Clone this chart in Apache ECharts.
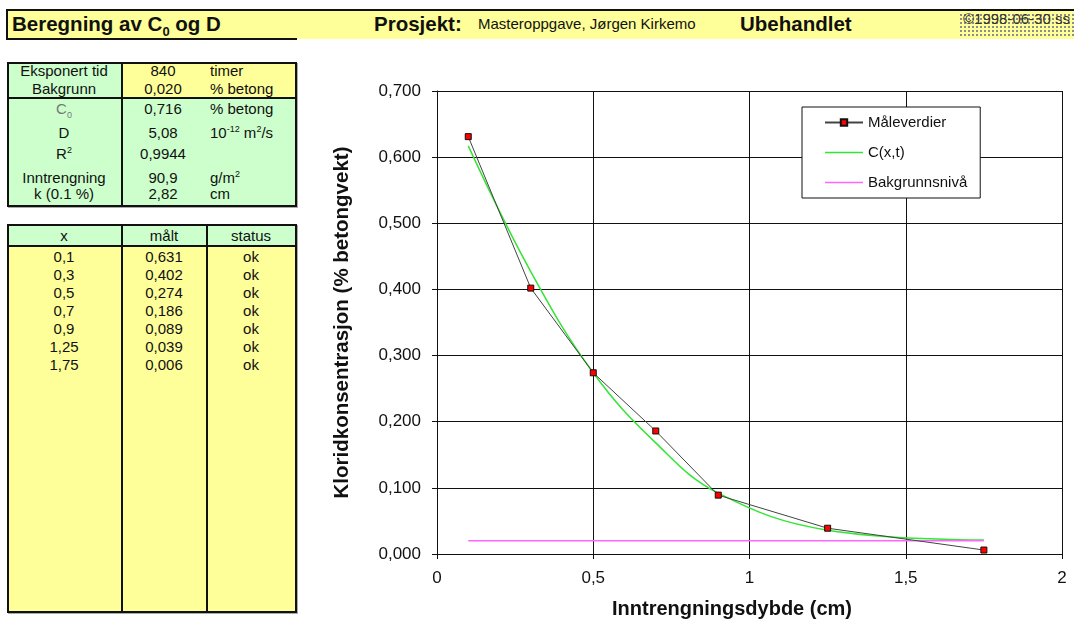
<!DOCTYPE html>
<html>
<head>
<meta charset="utf-8">
<script src="https://cdn.jsdelivr.net/npm/echarts@6/dist/echarts.min.js"></script>
<style>
  html, body { margin: 0; padding: 0; background: #fff; }
  body { width: 1074px; height: 624px; position: relative; overflow: hidden;
         font-family: "Liberation Sans", Arial, sans-serif; color: #000; }
  .abs { position: absolute; }
  .txt { position: absolute; height: 18px; line-height: 18px; font-size: 15px; white-space: nowrap; color: #111; }
  .c { text-align: center; }
  sub, sup { font-size: 9px; line-height: 0; }
  #chart { position: absolute; left: 300px; top: 40px; width: 774px; height: 584px; }
</style>
</head>
<body>
<div id="page"></div>
<div id="chart"></div>
<script>
// Measured chloride profile (depth in cm, chloride in % of concrete weight)
const depthCm  = [0.1, 0.3, 0.5, 0.7, 0.9, 1.25, 1.75];
const measured = [0.631, 0.402, 0.274, 0.186, 0.089, 0.039, 0.006];
const status   = ['ok', 'ok', 'ok', 'ok', 'ok', 'ok', 'ok'];
// Fitted profile C(x,t) at the same depths
const fitted   = [0.617, 0.427, 0.274, 0.168, 0.092, 0.036, 0.021];
// Background level line
const bgDepth  = [0.1, 1.75];
const bgLevel  = [0.020, 0.020];

// Parameter table rows: label, value, unit
const paramLabels = ['Eksponert tid', 'Bakgrunn', 'C<sub>0</sub>', 'D', 'R<sup>2</sup>', 'Inntrengning', 'k (0.1 %)'];
const paramValues = ['840', '0,020', '0,716', '5,08', '0,9944', '90,9', '2,82'];
const paramUnits  = ['timer', '% betong', '% betong', '10<sup>-12</sup> m<sup>2</sup>/s', '', 'g/m<sup>2</sup>', 'cm'];
const paramRowY   = [71, 89, 109, 133, 154, 178, 194];

const yTickLabels = v => v.toFixed(3).replace('.', ',');
const xTickLabels = v => String(v).replace('.', ',');

const page = document.getElementById('page');
function box(l, t, w, h, style) {
  const d = document.createElement('div');
  d.className = 'abs';
  d.style.cssText = `left:${l}px;top:${t}px;width:${w}px;height:${h}px;` + (style || '');
  page.appendChild(d);
  return d;
}
function text(html, cx, cy, opts) {
  const d = document.createElement('div');
  d.className = 'txt' + (opts && opts.left ? '' : ' c');
  if (opts && opts.left) d.style.left = cx + 'px';
  else { d.style.left = (cx - 60) + 'px'; d.style.width = '120px'; }
  d.style.top = (cy - 9) + 'px';
  if (opts && opts.css) d.style.cssText += opts.css;
  d.innerHTML = html;
  page.appendChild(d);
  return d;
}

// ---- header bar ----
const bold = 'font-size:20.5px;font-weight:bold;height:22px;line-height:22px;margin-top:-2px;';
box(6, 9, 1068, 30, 'background:#ffff99;');
box(6, 9, 1068, 2, 'background:#111;');
box(6, 9, 2, 31, 'background:#111;');
box(6, 38, 291, 2, 'background:#111;');
// dotted fill behind the date stamp
box(958, 12, 116, 26, 'background-image:radial-gradient(circle,#8a8a8a 0.7px,transparent 1px);background-size:4px 4px;background-position:1px 1px;');
text('Beregning av C<sub style="font-size:13px">0</sub> og D', 12, 24, {left: true, css: bold});
text('Prosjekt:', 374, 24, {left: true, css: bold});
text('Masteroppgave, Jørgen Kirkemo', 478, 24, {left: true});
text('Ubehandlet', 740, 24, {left: true, css: bold});
text('©1998-06-30 ss', 963, 19, {left: true, css: 'color:#333;'});

// ---- parameter table ----
box(7, 62, 290, 145, 'background:#ccffcc;box-sizing:border-box;border:2px solid #111;box-shadow:1px 1px 0 #aaa;');
box(123, 64, 172, 34, 'background:#ffff99;');
box(121, 62, 2, 145, 'background:#111;');
box(7, 97, 290, 2, 'background:#111;');
paramLabels.forEach((lab, i) => {
  const el = text(lab, 64, paramRowY[i]);
  if (i === 2) el.style.color = '#777';
  text(paramValues[i], 163, paramRowY[i]);
  text(paramUnits[i], 210, paramRowY[i], {left: true});
});

// ---- data table ----
box(7, 224, 290, 389, 'background:#ffff99;box-sizing:border-box;border:2px solid #111;box-shadow:1px 1px 0 #aaa;');
box(9, 226, 286, 19, 'background:#ccffcc;');
box(7, 245, 290, 2, 'background:#111;');
box(121, 224, 2, 389, 'background:#111;');
box(206, 224, 2, 389, 'background:#111;');
text('x', 64, 236);
text('målt', 164, 236);
text('status', 251, 236);
depthCm.forEach((x, i) => {
  const cy = 256.5 + i * 18.1;
  text(xTickLabels(x), 64, cy);
  text(measured[i].toFixed(3).replace('.', ','), 164, cy);
  text(status[i], 251, cy);
});

// ---- chart ----
const chart = echarts.init(document.getElementById('chart'), null, {renderer: 'canvas'});
const axisFont = {fontFamily: 'Liberation Sans', fontSize: 17, color: '#111'};
const lineIcon = 'path://M0,0H38V1.5H0Z';
chart.setOption({
  animation: false,
  textStyle: {fontFamily: 'Liberation Sans'},
  grid: {left: 137, top: 51, right: 12, bottom: 67, containLabel: false},
  legend: {
    orient: 'vertical', left: 502, top: 67,
    backgroundColor: '#fff', borderColor: '#111', borderWidth: 1,
    padding: [8, 13, 8, 22], itemWidth: 38, itemHeight: 8, itemGap: 15,
    textStyle: {fontFamily: 'Liberation Sans', fontSize: 15, color: '#111'},
    data: [
      {name: 'Måleverdier'},
      {name: 'C(x,t)', icon: lineIcon},
      {name: 'Bakgrunnsnivå', icon: lineIcon}
    ]
  },
  xAxis: {
    type: 'value', min: 0, max: 2, interval: 0.5,
    name: 'Inntrengningsdybde (cm)', nameLocation: 'middle', nameGap: 45,
    nameTextStyle: {fontFamily: 'Liberation Sans', fontSize: 20, fontWeight: 'bold', color: '#111', padding: [0, 35, 0, 0]},
    axisLine: {lineStyle: {color: '#111', width: 1}},
    axisTick: {show: true, length: 5, lineStyle: {color: '#111'}},
    axisLabel: Object.assign({margin: 16, formatter: xTickLabels}, axisFont),
    splitLine: {show: true, lineStyle: {color: '#111', width: 1}}
  },
  yAxis: {
    type: 'value', min: 0, max: 0.7, interval: 0.1,
    name: 'Kloridkonsentrasjon (% betongvekt)', nameLocation: 'middle', nameGap: 84,
    nameTextStyle: {fontFamily: 'Liberation Sans', fontSize: 20.5, fontWeight: 'bold', color: '#111'},
    axisLine: {show: true, lineStyle: {color: '#111', width: 1}},
    axisTick: {show: true, length: 5, lineStyle: {color: '#111'}},
    axisLabel: Object.assign({margin: 16, formatter: yTickLabels}, axisFont),
    splitLine: {show: true, lineStyle: {color: '#111', width: 1}}
  },
  series: [
    {
      name: 'Måleverdier', type: 'line',
      data: depthCm.map((x, i) => [x, measured[i]]),
      lineStyle: {color: '#444', width: 1},
      itemStyle: {color: '#ff0000', borderColor: '#111', borderWidth: 1},
      symbol: 'rect', symbolSize: 6, showSymbol: true, z: 3
    },
    {
      name: 'C(x,t)', type: 'line', smooth: 0.4,
      data: depthCm.map((x, i) => [x, fitted[i]]),
      lineStyle: {color: '#33e633', width: 1.5},
      itemStyle: {color: '#33e633'},
      symbol: 'none', z: 2
    },
    {
      name: 'Bakgrunnsnivå', type: 'line',
      data: bgDepth.map((x, i) => [x, bgLevel[i]]),
      lineStyle: {color: '#ff66ff', width: 1.5},
      itemStyle: {color: '#ff66ff'},
      symbol: 'none', z: 2
    }
  ]
});
</script>
</body>
</html>
